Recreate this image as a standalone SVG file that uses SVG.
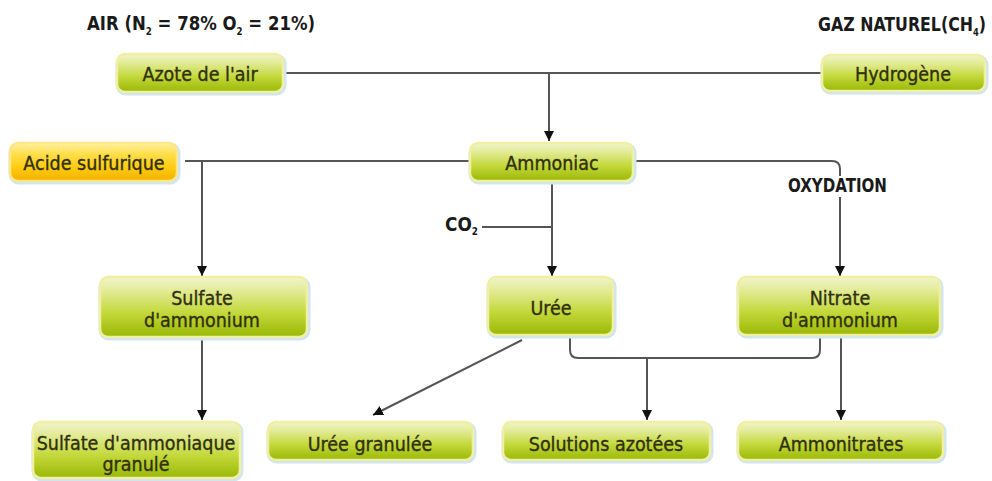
<svg xmlns="http://www.w3.org/2000/svg" width="992" height="481" viewBox="0 0 992 481">
<defs>
<linearGradient id="g" x1="0" y1="0" x2="0" y2="1">
<stop offset="0" stop-color="#f1f4cc"/>
<stop offset="0.25" stop-color="#e1ea92"/>
<stop offset="0.6" stop-color="#c3d83a"/>
<stop offset="1" stop-color="#9ab806"/>
</linearGradient>
<linearGradient id="y" x1="0" y1="0" x2="0" y2="1">
<stop offset="0" stop-color="#fff0a0"/>
<stop offset="0.3" stop-color="#ffde4a"/>
<stop offset="0.65" stop-color="#ffcb10"/>
<stop offset="1" stop-color="#f2b000"/>
</linearGradient>
<marker id="a" viewBox="0 0 10 10" refX="10" refY="5" markerWidth="10" markerHeight="10" markerUnits="userSpaceOnUse" orient="auto">
<path d="M0,0 L10,5 L0,10 Z" fill="#111"/>
</marker>
</defs>
<style>
.sh{fill:none;stroke:#cfe5f1;stroke-width:3}
.bx{fill:url(#g);stroke:#f1efa2;stroke-width:2.5}
.by{fill:url(#y);stroke:#fbe78a;stroke-width:2.5}
.t{font-family:'DejaVu Sans Condensed','DejaVu Sans',sans-serif;font-stretch:condensed;font-size:19.5px;fill:#30300e;stroke:#30300e;stroke-width:0.35;text-anchor:middle}
.h{font-family:'DejaVu Sans Condensed','DejaVu Sans',sans-serif;font-stretch:condensed;font-weight:bold;font-size:19px;fill:#1a1a1a}
.s{font-size:10px}
.c{fill:none;stroke:#555;stroke-width:2}
.ca{fill:none;stroke:#555;stroke-width:2;marker-end:url(#a)}
</style>
<rect width="992" height="481" fill="#fff"/>

<g id="labels">
<text class="h" x="87" y="30" textLength="228" lengthAdjust="spacingAndGlyphs">AIR (N<tspan class="s" dy="5">2</tspan><tspan dy="-5"> = 78% O</tspan><tspan class="s" dy="5">2</tspan><tspan dy="-5"> = 21%)</tspan></text>
<text class="h" x="818" y="31" font-size="18" textLength="168" lengthAdjust="spacingAndGlyphs">GAZ NATUREL(CH<tspan class="s" dy="5">4</tspan><tspan dy="-5">)</tspan></text>
<text class="h" x="788" y="192" textLength="99" lengthAdjust="spacingAndGlyphs">OXYDATION</text>
<text class="h" x="445" y="231" textLength="33" lengthAdjust="spacingAndGlyphs">CO<tspan class="s" dy="4">2</tspan></text>
</g>

<g id="connectors">
<path class="c" d="M283,73 H822"/>
<path class="ca" d="M549,73 V141"/>
<path class="c" d="M185,161 H470"/>
<path class="ca" d="M202,161 V276"/>
<path class="c" d="M633,161 H832 Q840,161 840,169 V176"/>
<path class="ca" d="M840,197 V276"/>
<path class="ca" d="M552,180 V276"/>
<path class="c" d="M482,227 H552"/>
<path class="ca" d="M202,337 V420"/>
<path class="ca" d="M522,340 L373,415"/>
<path class="c" d="M570,337 V350 Q570,358 578,358 H812 Q820,358 820,350 V337"/>
<path class="ca" d="M647,358 V420"/>
<path class="ca" d="M841,337 V420"/>
</g>

<g id="azote">
<rect class="sh" x="117" y="55" width="168" height="39" rx="9"/>
<rect class="bx" x="117" y="54" width="166" height="38" rx="8"/>
<text class="t" x="200" y="81">Azote de l'air</text>
</g>
<g id="hydrogene">
<rect class="sh" x="822" y="56" width="165" height="37" rx="9"/>
<rect class="bx" x="822" y="55" width="163" height="36" rx="8"/>
<text class="t" x="903" y="81">Hydrogène</text>
</g>
<g id="acide">
<rect class="sh" x="10" y="144" width="169" height="39" rx="9"/>
<rect class="by" x="10" y="143" width="167" height="38" rx="8"/>
<text class="t" x="94" y="170">Acide sulfurique</text>
</g>
<g id="ammoniac">
<rect class="sh" x="470" y="144" width="165" height="39" rx="9"/>
<rect class="bx" x="470" y="143" width="163" height="38" rx="8"/>
<text class="t" x="552" y="170">Ammoniac</text>
</g>
<g id="sulfate">
<rect class="sh" x="100" y="278" width="209" height="61" rx="9"/>
<rect class="bx" x="100" y="277" width="207" height="60" rx="8"/>
<text class="t" x="202" y="305">Sulfate</text>
<text class="t" x="202" y="327">d'ammonium</text>
</g>
<g id="uree">
<rect class="sh" x="488" y="278" width="127" height="59" rx="9"/>
<rect class="bx" x="488" y="277" width="125" height="58" rx="8"/>
<text class="t" x="551" y="315">Urée</text>
</g>
<g id="nitrate">
<rect class="sh" x="738" y="278" width="204" height="59" rx="9"/>
<rect class="bx" x="738" y="277" width="202" height="58" rx="8"/>
<text class="t" x="840" y="305">Nitrate</text>
<text class="t" x="840" y="327">d'ammonium</text>
</g>
<g id="sulfate-granule">
<rect class="sh" x="33" y="423" width="209" height="57" rx="9"/>
<rect class="bx" x="33" y="422" width="207" height="56" rx="8"/>
<text class="t" x="136" y="450">Sulfate d'ammoniaque</text>
<text class="t" x="136" y="471">granulé</text>
</g>
<g id="uree-granulee">
<rect class="sh" x="268" y="423" width="207" height="39" rx="9"/>
<rect class="bx" x="268" y="422" width="205" height="38" rx="8"/>
<text class="t" x="370" y="451">Urée granulée</text>
</g>
<g id="solutions">
<rect class="sh" x="503" y="423" width="209" height="39" rx="9"/>
<rect class="bx" x="503" y="422" width="207" height="38" rx="8"/>
<text class="t" x="606" y="451">Solutions azotées</text>
</g>
<g id="ammonitrates">
<rect class="sh" x="738" y="423" width="207" height="39" rx="9"/>
<rect class="bx" x="738" y="422" width="205" height="38" rx="8"/>
<text class="t" x="841" y="451">Ammonitrates</text>
</g>
</svg>
